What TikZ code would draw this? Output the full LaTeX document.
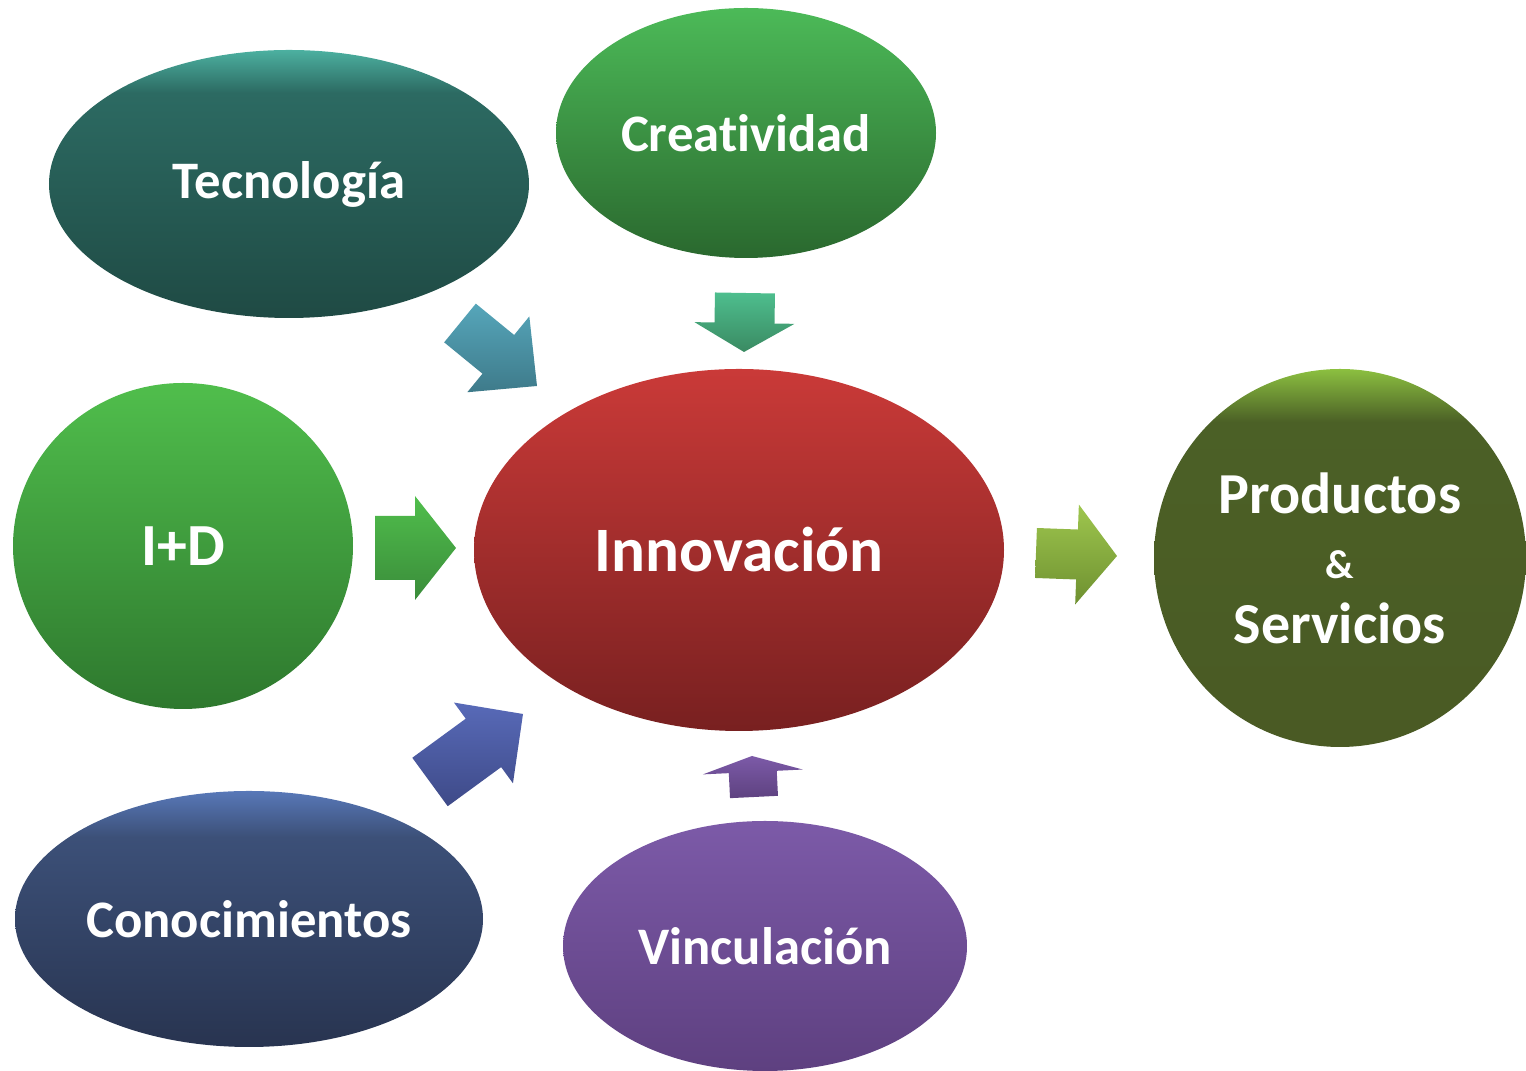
\documentclass[tikz,border=0pt]{standalone}
\usepackage{fontspec}
\setmainfont{Carlito}[Ligatures=NoCommon]
\usetikzlibrary{calc}
\usetikzlibrary{shapes.geometric}

\definecolor{tectop}{HTML}{4CB0A0}
\definecolor{tecmid}{HTML}{2C6A62}
\definecolor{tecbot}{HTML}{1F4A44}
\definecolor{protop}{HTML}{8CC040}
\definecolor{promid}{HTML}{4B6026}
\definecolor{probot}{HTML}{4A5A24}
\definecolor{contop}{HTML}{5878B8}
\definecolor{conmid}{HTML}{3C5078}
\definecolor{conbot}{HTML}{283450}

\pgfdeclareverticalshading{tecshade}{100bp}{color(0bp)=(tecbot); color(25bp)=(tecbot); color(67bp)=(tecmid); color(75bp)=(tectop); color(100bp)=(tectop)}
\pgfdeclareverticalshading{proshade}{100bp}{color(0bp)=(probot); color(25bp)=(probot); color(68bp)=(promid); color(75bp)=(protop); color(100bp)=(protop)}
\pgfdeclareverticalshading{conshade}{100bp}{color(0bp)=(conbot); color(25bp)=(conbot); color(66bp)=(conmid); color(75bp)=(contop); color(100bp)=(contop)}

% block arrow: tail, tip, shaft half width, head half width, head length, style
\newcommand{\blockarr}[6]{%
 \coordinate (#1-n) at ($(#2)!#5!(#1)$);
 \path[#6] ($(#1)!#3!90:(#2)$) -- ($(#1-n)!#3!90:(#2)$) -- ($(#1-n)!#4!90:(#2)$) -- (#2)
  -- ($(#1-n)!#4!-90:(#2)$) -- ($(#1-n)!#3!-90:(#2)$) -- ($(#1)!#3!-90:(#2)$) -- cycle;
}

\tikzset{
 bubble/.style={ellipse, inner sep=0pt, text=white, font=\fontsize{15}{18}\selectfont\bfseries},
 arr tec/.style={top color={rgb,255:red,86;green,166;blue,186}, bottom color={rgb,255:red,62;green,122;blue,138}},
 arr cre/.style={top color={rgb,255:red,78;green,190;blue,142}, bottom color={rgb,255:red,58;green,138;blue,98}},
 arr iyd/.style={top color={rgb,255:red,80;green,190;blue,76}, bottom color={rgb,255:red,58;green,140;blue,58}},
 arr con/.style={top color={rgb,255:red,88;green,106;blue,184}, bottom color={rgb,255:red,62;green,74;blue,136}},
 arr vin/.style={top color={rgb,255:red,124;green,90;blue,168}, bottom color={rgb,255:red,94;green,66;blue,128}},
 arr pro/.style={top color={rgb,255:red,158;green,198;blue,78}, bottom color={rgb,255:red,110;green,144;blue,48}}
}

\begin{document}
\begin{tikzpicture}
\useasboundingbox (0,0) rectangle (15.26,10.71);

\node[bubble, minimum width=4.8cm, minimum height=2.68cm, shade, shading=tecshade] (tec) at (2.89,8.87) {Tecnología};
\node[bubble, minimum width=3.8cm, minimum height=2.5cm, top color={rgb,255:red,76;green,186;blue,88}, bottom color={rgb,255:red,42;green,104;blue,46}] (cre) at (7.46,9.38) {Creatividad};
\node[bubble, minimum width=3.4cm, minimum height=3.26cm, font=\fontsize{17}{20}\selectfont\bfseries, top color={rgb,255:red,80;green,190;blue,76}, bottom color={rgb,255:red,46;green,120;blue,46}] (iyd) at (1.83,5.25) {I+D};
\node[bubble, minimum width=5.3cm, minimum height=3.62cm, font=\fontsize{18}{20}\selectfont\bfseries, top color={rgb,255:red,202;green,58;blue,56}, bottom color={rgb,255:red,120;green,32;blue,32}] (inn) at (7.39,5.21) {Innovación};
\node[bubble, minimum width=3.72cm, minimum height=3.78cm, align=center, font=\fontsize{16.5}{18.5}\selectfont\bfseries, shade, shading=proshade] (pro) at (13.40,5.13) {Productos\\{\fontsize{11.5}{18.5}\selectfont\&}\\Servicios};
\node[bubble, minimum width=4.68cm, minimum height=2.56cm, shade, shading=conshade] (con) at (2.49,1.52) {Conocimientos};
\node[bubble, minimum width=4.04cm, minimum height=2.5cm, top color={rgb,255:red,124;green,90;blue,168}, bottom color={rgb,255:red,94;green,64;blue,128}] (vin) at (7.65,1.25) {Vinculación};

\coordinate (tec-a) at (4.60,7.48);  \coordinate (tec-b) at (5.37,6.85);
\coordinate (cre-a) at (7.45,7.78);  \coordinate (cre-b) at (7.44,7.19);
\coordinate (iyd-a) at (3.75,5.23);  \coordinate (iyd-b) at (4.56,5.23);
\coordinate (con-a) at (4.30,2.89);  \coordinate (con-b) at (5.23,3.57);
\coordinate (vin-a) at (7.54,2.74);  \coordinate (vin-b) at (7.52,3.15);
\coordinate (pro-a) at (10.36,5.18); \coordinate (pro-b) at (11.17,5.15);

\blockarr{tec-a}{tec-b}{0.25cm}{0.49cm}{0.50cm}{arr tec}
\blockarr{cre-a}{cre-b}{0.30cm}{0.50cm}{0.29cm}{arr cre}
\blockarr{iyd-a}{iyd-b}{0.32cm}{0.52cm}{0.41cm}{arr iyd}
\blockarr{con-a}{con-b}{0.30cm}{0.50cm}{0.49cm}{arr con}
\blockarr{vin-a}{vin-b}{0.24cm}{0.50cm}{0.16cm}{arr vin}
\blockarr{pro-a}{pro-b}{0.25cm}{0.50cm}{0.40cm}{arr pro}
\end{tikzpicture}
\end{document}
